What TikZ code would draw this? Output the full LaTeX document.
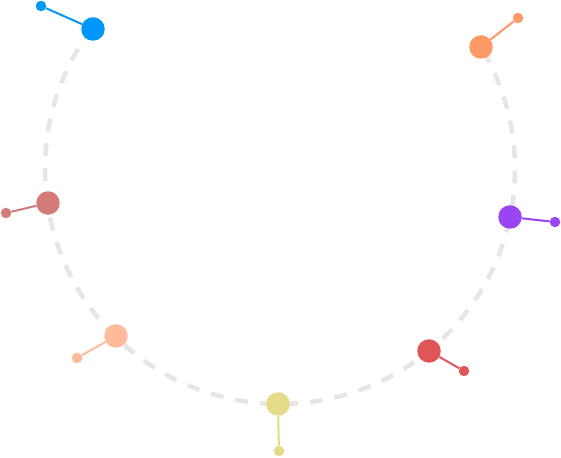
\documentclass[tikz,border=0pt]{standalone}
\usetikzlibrary{calc}
\definecolor{cblue}{HTML}{0096FA}
\definecolor{corange}{HTML}{FF9966}
\definecolor{cpurple}{HTML}{9945F3}
\definecolor{cred}{HTML}{DE5656}
\definecolor{cyellow}{HTML}{E6DB88}
\definecolor{cpeach}{HTML}{FFBB99}
\definecolor{crose}{HTML}{D27B78}
\definecolor{ring}{HTML}{E6E6E6}
\begin{document}
\begin{tikzpicture}[x=1pt,y=1pt,
  bigdot/.style={circle,fill=#1,inner sep=0pt,minimum size=23.5pt},
  smalldot/.style={circle,fill=#1,inner sep=0pt,minimum size=10.5pt},
  link/.style={draw=#1,line width=2pt},
  ringline/.style={draw=ring,line width=4.5pt,dash pattern=on 13pt off 12pt}]
\useasboundingbox (0,0) rectangle (561,457);
\coordinate (c) at (280,288);
\draw[ringline] ($(c)+(143.2:235)$) arc[start angle=143.2,end angle=391.3,radius=235];
% small dots
\node[smalldot=cblue] (bs) at (41,451) {};
\node[smalldot=corange] (os) at (518,439) {};
\node[smalldot=cpurple] (ps) at (555,235) {};
\node[smalldot=cred] (rs) at (464,86) {};
\node[smalldot=cyellow] (ys) at (279,6) {};
\node[smalldot=cpeach] (es) at (77,99) {};
\node[smalldot=crose] (ks) at (6,244) {};
% big dots
\node[bigdot=cblue] (b) at (93,428) {};
\node[bigdot=corange] (o) at (481,410) {};
\node[bigdot=cpurple] (p) at (510,240) {};
\node[bigdot=cred] (r) at (429,106) {};
\node[bigdot=cyellow] (y) at (278,53) {};
\node[bigdot=cpeach] (e) at (116,121) {};
\node[bigdot=crose] (k) at (48,254) {};
% connectors
\draw[link=cblue] (b) -- (bs);
\draw[link=corange] (o) -- (os);
\draw[link=cpurple] (p) -- (ps);
\draw[link=cred] (r) -- (rs);
\draw[link=cyellow] (y) -- (ys);
\draw[link=cpeach] (e) -- (es);
\draw[link=crose] (k) -- (ks);
\end{tikzpicture}
\end{document}
